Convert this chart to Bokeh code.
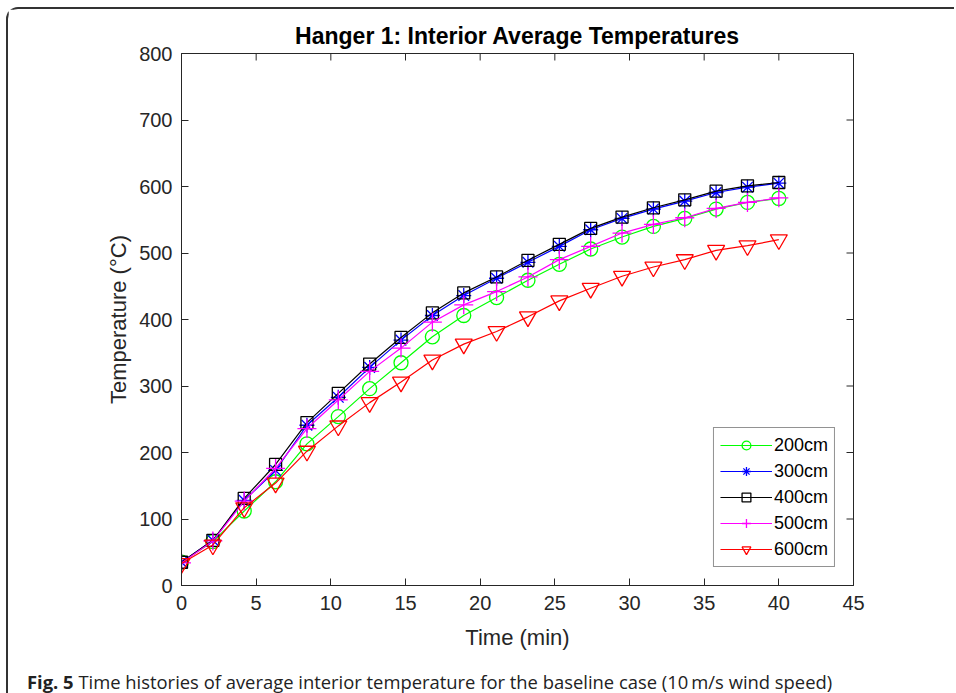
from bokeh.plotting import figure
from bokeh.models import Range1d, FixedTicker, Div, Legend, LegendItem
from bokeh.layouts import column
from bokeh.embed import file_html
from bokeh.resources import INLINE
import math

# ---- data ----
time_min = [0, 2.1, 4.2, 6.3, 8.4, 10.5, 12.6, 14.7, 16.8, 18.9,
            21.1, 23.2, 25.3, 27.4, 29.5, 31.6, 33.7, 35.8, 37.9, 40.0]
t200 = [35, 66, 112, 156, 213, 254, 296, 335, 374, 406,
        433, 459, 483, 506, 524, 540, 552, 566, 576, 582]
t300 = [35, 68, 128, 173, 241, 283, 328, 369, 406, 436,
        462, 486, 510, 535, 552, 566, 578, 591, 599, 605]
t400 = [35, 68, 131, 182, 245, 289, 333, 373, 410, 440,
        464, 489, 513, 537, 554, 568, 580, 593, 601, 606]
t500 = [34, 67, 127, 176, 236, 279, 322, 357, 396, 422,
        442, 464, 490, 510, 530, 543, 553, 567, 576, 583]
t600 = [33, 61, 117, 154, 202, 240, 275, 306, 339, 363,
        382, 404, 428, 447, 465, 479, 490, 504, 511, 520]
labels = ["200cm", "300cm", "400cm", "500cm", "600cm"]
x_ticks = [0, 5, 10, 15, 20, 25, 30, 35, 40, 45]
y_ticks = [0, 100, 200, 300, 400, 500, 600, 700, 800]
x_min, x_max = 0, 45
y_min, y_max = 0, 800

series = [t200, t300, t400, t500, t600]
colors = ["#00ff00", "#0000ff", "#000000", "#ff00ff", "#ff0000"]
markers = ["circle", "asterisk", "square", "cross", "inverted_triangle"]
sizes = [14, 15, 12, 19, 17]

FONT = "Liberation Sans"
AX = "#262626"

p = figure(width=946, height=643, output_backend="svg", toolbar_location=None,
           x_range=Range1d(x_min, x_max), y_range=Range1d(y_min, y_max),
           min_border_left=173, min_border_right=101, min_border_top=44, min_border_bottom=67,
           title="Hanger 1: Interior Average Temperatures")
p.title.align = "center"
p.title.text_font = FONT
p.title.text_font_size = "23px"
p.title.text_font_style = "bold"
p.title.text_color = "#000000"
p.title.offset = 2
p.grid.visible = False
p.outline_line_color = AX
p.background_fill_color = "white"
p.border_fill_color = "white"

p.xaxis.ticker = FixedTicker(ticks=x_ticks)
p.yaxis.ticker = FixedTicker(ticks=y_ticks)
for ax in p.axis:
    ax.axis_line_color = AX
    ax.major_tick_line_color = AX
    ax.major_tick_in = 7
    ax.major_tick_out = 0
    ax.minor_tick_line_color = None
    ax.major_label_text_font = FONT
    ax.major_label_text_font_size = "20px"
    ax.major_label_text_color = AX
    ax.axis_label_text_font = FONT
    ax.axis_label_text_font_size = "22px"
    ax.axis_label_text_font_style = "normal"
    ax.axis_label_text_color = AX
p.xaxis.axis_label = "Time (min)"
p.xaxis.major_label_standoff = 10
p.xaxis.axis_label_standoff = 12
p.yaxis.axis_label = "Temperature (\u00b0C)"
p.yaxis.major_label_standoff = 9
p.yaxis.axis_label_standoff = 5

# inward tick marks on the top and right edges of the box (clipped to the frame)
p.scatter(x_ticks, [y_max] * len(x_ticks), marker="dash", size=14, angle=math.pi / 2,
          line_color=AX, line_width=1)
p.scatter([x_max] * len(y_ticks), y_ticks, marker="dash", size=14, angle=0,
          line_color=AX, line_width=1)

items = []
for ys, c, m, s, lab in zip(series, colors, markers, sizes, labels):
    r1 = p.line(time_min, ys, line_color=c, line_width=1.2)
    r2 = p.scatter(time_min, ys, marker=m, size=s, line_color=c, fill_color=None, line_width=1.3)
    items.append(LegendItem(label=lab, renderers=[r1, r2]))

legend = Legend(items=items, location="bottom_right")
legend.label_text_font = FONT
legend.label_text_font_size = "18px"
legend.label_text_color = "#000000"
legend.glyph_width = 52
legend.glyph_height = 22
legend.label_height = 22
legend.spacing = 4
legend.padding = 6
legend.margin = 18
legend.label_standoff = 2
legend.border_line_color = AX
legend.border_line_width = 1
legend.background_fill_alpha = 1
p.add_layout(legend, "center")

caption = Div(text='<span style="font-weight:bold">Fig. 5</span> Time histories of average interior '
                   'temperature for the baseline case (10\u2009m/s wind speed)',
              width=930, height=41,
              styles={"font-family": "Open Sans", "font-size": "18.4px", "color": "#222",
                      "padding-left": "14px", "padding-top": "12px", "white-space": "nowrap"})

layout = column(p, caption, spacing=0,
                styles={"border-left": "2px solid #333", "border-top": "2px solid #333",
                        "border-top-left-radius": "12px", "margin-left": "6px", "margin-top": "7px"})

open("out.html", "w").write(file_html(layout, INLINE))
